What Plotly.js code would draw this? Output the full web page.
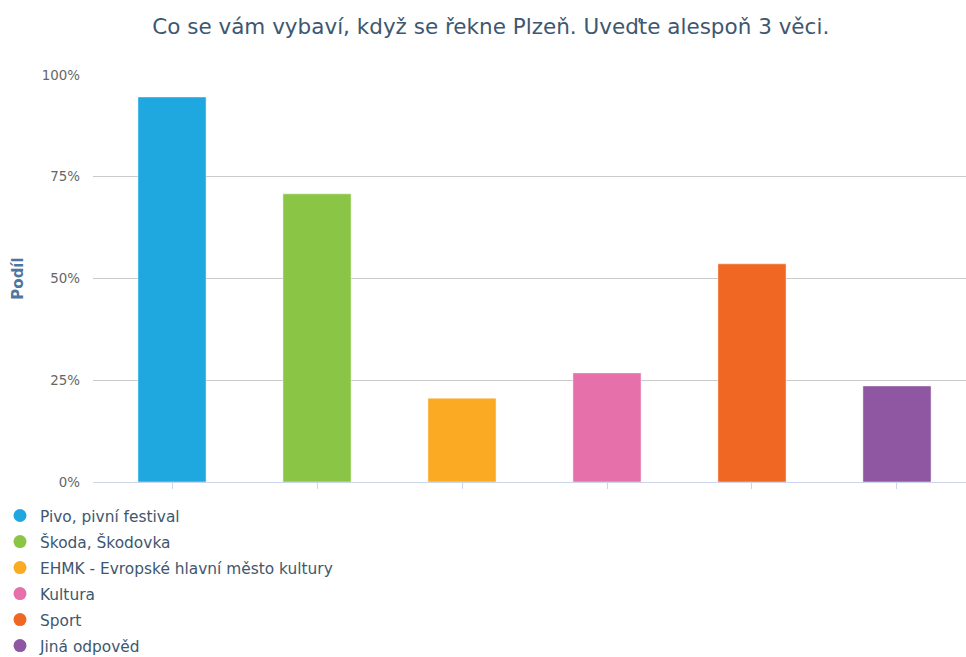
<!DOCTYPE html>
<html>
<head>
<meta charset="utf-8">
<script src="https://cdn.plot.ly/plotly-3.0.1.min.js"></script>
<style>html,body{margin:0;padding:0;background:#fff;}#chart{width:966px;height:657px;}</style>
</head>
<body>
<div id="chart"></div>
<script>
var categories = ["Pivo, pivní festival", "Škoda, Škodovka", "EHMK - Evropské hlavní město kultury", "Kultura", "Sport", "Jiná odpověd"];
var values = [94.6, 70.8, 20.6, 26.8, 53.6, 23.6];
var colors = ["#1fa8e0", "#8ac545", "#fbaa24", "#e670aa", "#f06724", "#8f57a2"];
var yTicks = [0, 25, 50, 75, 100];
var yTickLabels = ["0%", "25%", "50%", "75%", "100%"];
var titleText = "Co se vám vybaví, když se řekne Plzeň. Uveďte alespoň 3 věci.";
var yTitle = "Podíl";

var traces = [];
categories.forEach(function (c, i) {
  traces.push({
    type: "bar",
    x: [i],
    y: [values[i]],
    width: 0.47,
    marker: {color: colors[i], line: {color: "rgba(255,255,255,0.45)", width: 1}},
    showlegend: false,
    hoverinfo: "skip"
  });
});
categories.forEach(function (c, i) {
  traces.push({
    type: "scatter",
    mode: "markers",
    x: [null],
    y: [null],
    name: c,
    legendgroup: "g" + i,
    marker: {color: colors[i], size: 13, symbol: "circle"},
    showlegend: true
  });
});

var layout = {
  width: 966,
  height: 657,
  margin: {l: 93, r: 0, t: 75, b: 175},
  paper_bgcolor: "#fff",
  plot_bgcolor: "#fff",
  font: {family: "DejaVu Sans, sans-serif", color: "#3e576f"},
  title: {text: titleText, x: 0.508, xanchor: "center", y: 1 - 26/657, yanchor: "middle", yref: "container",
          font: {size: 21.5, color: "#3e576f", family: "DejaVu Sans, sans-serif"}},
  barmode: "overlay",
  bargap: 0,
  xaxis: {
    range: [-0.545, 5.476],
    showgrid: false,
    zeroline: false,
    showline: true,
    linecolor: "#ccd6eb",
    linewidth: 1,
    ticks: "outside",
    ticklen: 6,
    tickcolor: "#ccd6eb",
    tickvals: [0, 1, 2, 3, 4, 5],
    showticklabels: false,
    fixedrange: true
  },
  yaxis: {
    range: [0, 100],
    tickvals: yTicks,
    ticktext: yTickLabels,
    showgrid: true,
    gridcolor: "#cacaca",
    gridwidth: 1,
    zeroline: false,
    showline: false,
    ticks: "",
    ticklabelstandoff: 12,
    tickfont: {size: 13.4, color: "#666666", family: "DejaVu Sans, sans-serif"},
    title: {text: yTitle, standoff: 14, font: {size: 15, color: "#4d759e", family: "DejaVu Sans, sans-serif", weight: "bold"}},
    fixedrange: true
  },
  legend: {
    orientation: "v",
    xref: "paper",
    yref: "container",
    x: -98/873,
    xanchor: "left",
    y: 1 - 499/657,
    yanchor: "top",
    traceorder: "grouped",
    tracegroupgap: 3,
    font: {size: 15.4, color: "#3e576f", family: "DejaVu Sans, sans-serif"},
    bgcolor: "rgba(0,0,0,0)"
  },
  showlegend: true
};

Plotly.newPlot("chart", traces, layout, {displayModeBar: false, staticPlot: true});
</script>
</body>
</html>
